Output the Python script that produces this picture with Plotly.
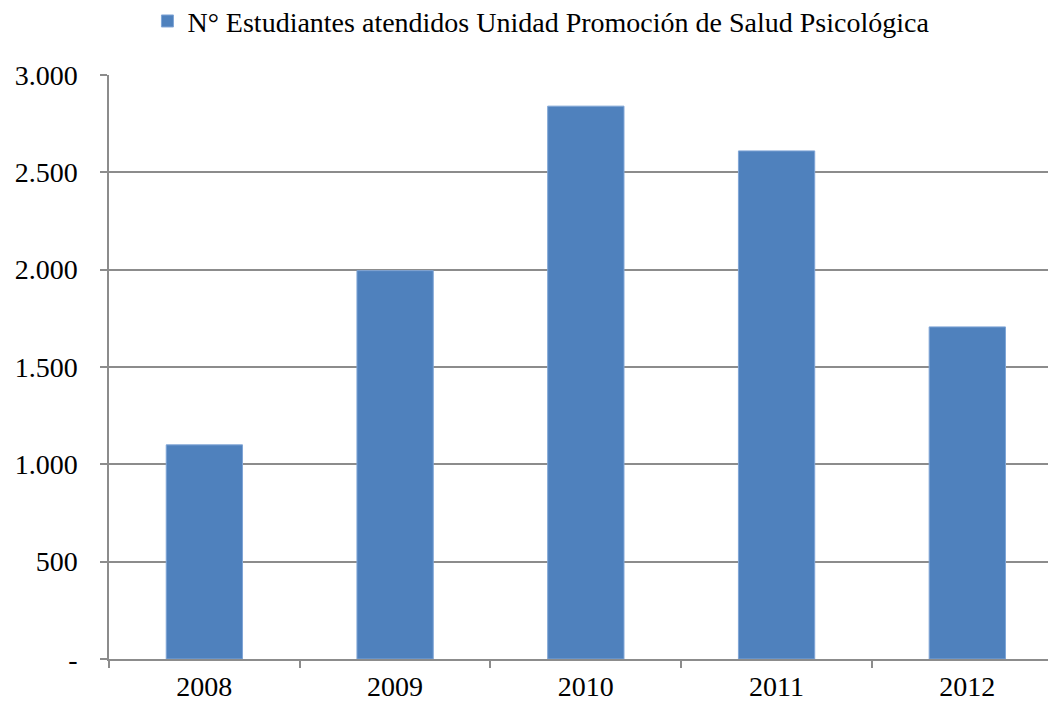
import plotly.graph_objects as go

# Students attended per year
years = ["2008", "2009", "2010", "2011", "2012"]
students = [1100, 1995, 2840, 2610, 1706]

series_name = "N° Estudiantes atendidos Unidad Promoción de Salud Psicológica"
y_ticks = [0, 500, 1000, 1500, 2000, 2500, 3000]
y_tick_labels = ["-", "500", "1.000", "1.500", "2.000", "2.500", "3.000"]

font_family = "Liberation Serif"
axis_gray = "#8c8c8c"

fig = go.Figure()
fig.add_trace(go.Bar(
    x=years,
    y=students,
    name=series_name,
    width=0.4,
    marker=dict(color="#4F81BD", line=dict(color="#7FA5D6", width=1)),
    showlegend=True,
))

fig.update_layout(
    width=1048,
    height=704,
    margin=dict(l=109, r=0, t=75, b=45, autoexpand=False),
    paper_bgcolor="white",
    plot_bgcolor="white",
    font=dict(family=font_family, size=28, color="#000000"),
    bargap=0.6,
    legend=dict(
        orientation="h",
        x=0.46, xanchor="center",
        y=1.092, yanchor="middle",
        font=dict(family=font_family, size=28),
        itemwidth=30,
    ),
    xaxis=dict(
        type="category",
        range=[-0.5, 4.423],
        showline=True,
        linecolor=axis_gray,
        linewidth=1.5,
        ticks="outside",
        tickson="boundaries",
        ticklen=7,
        tickcolor=axis_gray,
        tickwidth=1.5,
        showgrid=False,
        ticklabelstandoff=2,
        tickfont=dict(family=font_family, size=28),
    ),
    yaxis=dict(
        range=[0, 3000],
        tickvals=y_ticks,
        ticktext=y_tick_labels,
        showline=True,
        linecolor=axis_gray,
        linewidth=1.5,
        ticks="outside",
        ticklen=7,
        tickcolor=axis_gray,
        tickwidth=1.5,
        showgrid=True,
        gridcolor=axis_gray,
        gridwidth=1.5,
        zeroline=False,
        ticklabelstandoff=17,
        tickfont=dict(family=font_family, size=28),
    ),
)

fig.write_html("out.html")
